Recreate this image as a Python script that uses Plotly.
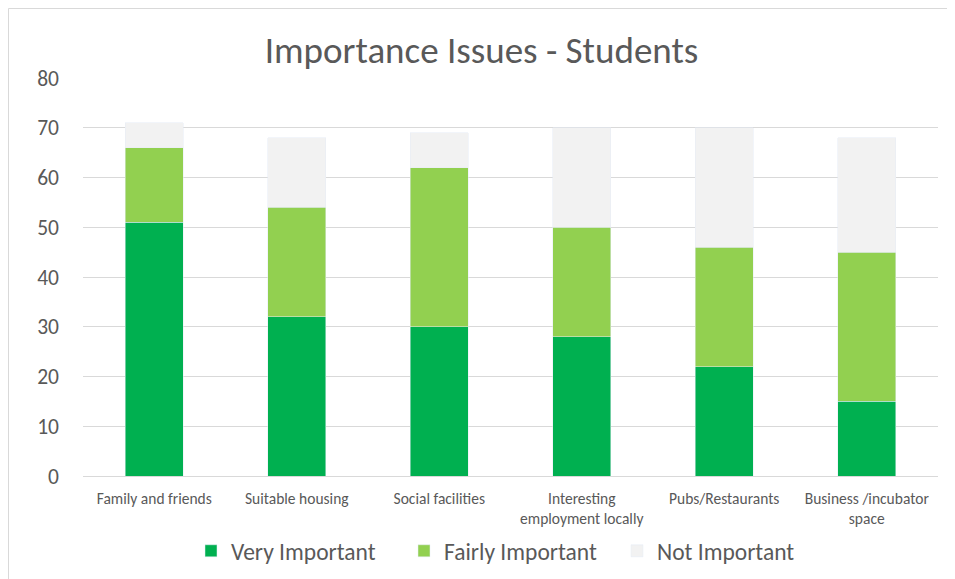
import plotly.graph_objects as go

categories = ["Family and friends", "Suitable housing", "Social facilities",
              "Interesting<br>employment locally", "Pubs/Restaurants",
              "Business /incubator<br>space"]
very_important = [51, 32, 30, 28, 22, 15]
fairly_important = [15, 22, 32, 22, 24, 30]
not_important = [5, 14, 7, 20, 24, 23]
y_ticks = [0, 10, 20, 30, 40, 50, 60, 70, 80]

FONT = "Carlito, Calibri, Lato, sans-serif"
fig = go.Figure()
fig.add_bar(x=categories, y=very_important, name="Very Important", marker_color="#00B050")
fig.add_bar(x=categories, y=fairly_important, name="Fairly Important", marker_color="#92D050")
fig.add_bar(x=categories, y=not_important, name="Not Important", marker_color="#F2F2F2")

OFF = 8  # page body margin
L, R, T, B = 83 - OFF, 938 - OFF, 78 - OFF, 476 - OFF
W, H = 955 - OFF, 579 - OFF
fig.update_layout(
    barmode="stack", bargap=0.59,
    width=W, height=H,
    margin=dict(l=L, r=W - R, t=T, b=H - B, autoexpand=False),
    paper_bgcolor="white", plot_bgcolor="white",
    font=dict(family=FONT, color="#595959"),
    title=dict(text="Importance Issues - Students", x=0.5, xanchor="center",
               y=1 - (50 - OFF) / H, yanchor="middle",
               font=dict(size=37, color="#595959", family=FONT)),
    xaxis=dict(showgrid=False, showline=True, linecolor="#D9D9D9", linewidth=1,
               tickfont=dict(size=15.5, color="#595959"), ticks="", ticklabelstandoff=8),
    yaxis=dict(range=[0, 80], tickvals=y_ticks, showgrid=True, gridcolor="#D9D9D9",
               gridwidth=1, zeroline=False, showline=False, ticks="",
               tickfont=dict(size=21.5, color="#595959"), ticklabelstandoff=23),
    legend=dict(orientation="h", x=0.5, xanchor="center", y=-(551 - 476) / (B - T),
                yanchor="middle", font=dict(size=23.5, color="#595959"),
                traceorder="normal", itemwidth=30, entrywidth=168, entrywidthmode="pixels"),
    showlegend=True,
)
fig.add_shape(type="rect", xref="paper", yref="paper",
              x0=(0.5 - L) / (R - L), x1=(W + 20 - L) / (R - L),
              y0=-(H + 20 - B) / (B - T), y1=(B - 0.5) / (B - T),
              line=dict(color="#D9D9D9", width=1), layer="below")
fig.write_html("out.html")
